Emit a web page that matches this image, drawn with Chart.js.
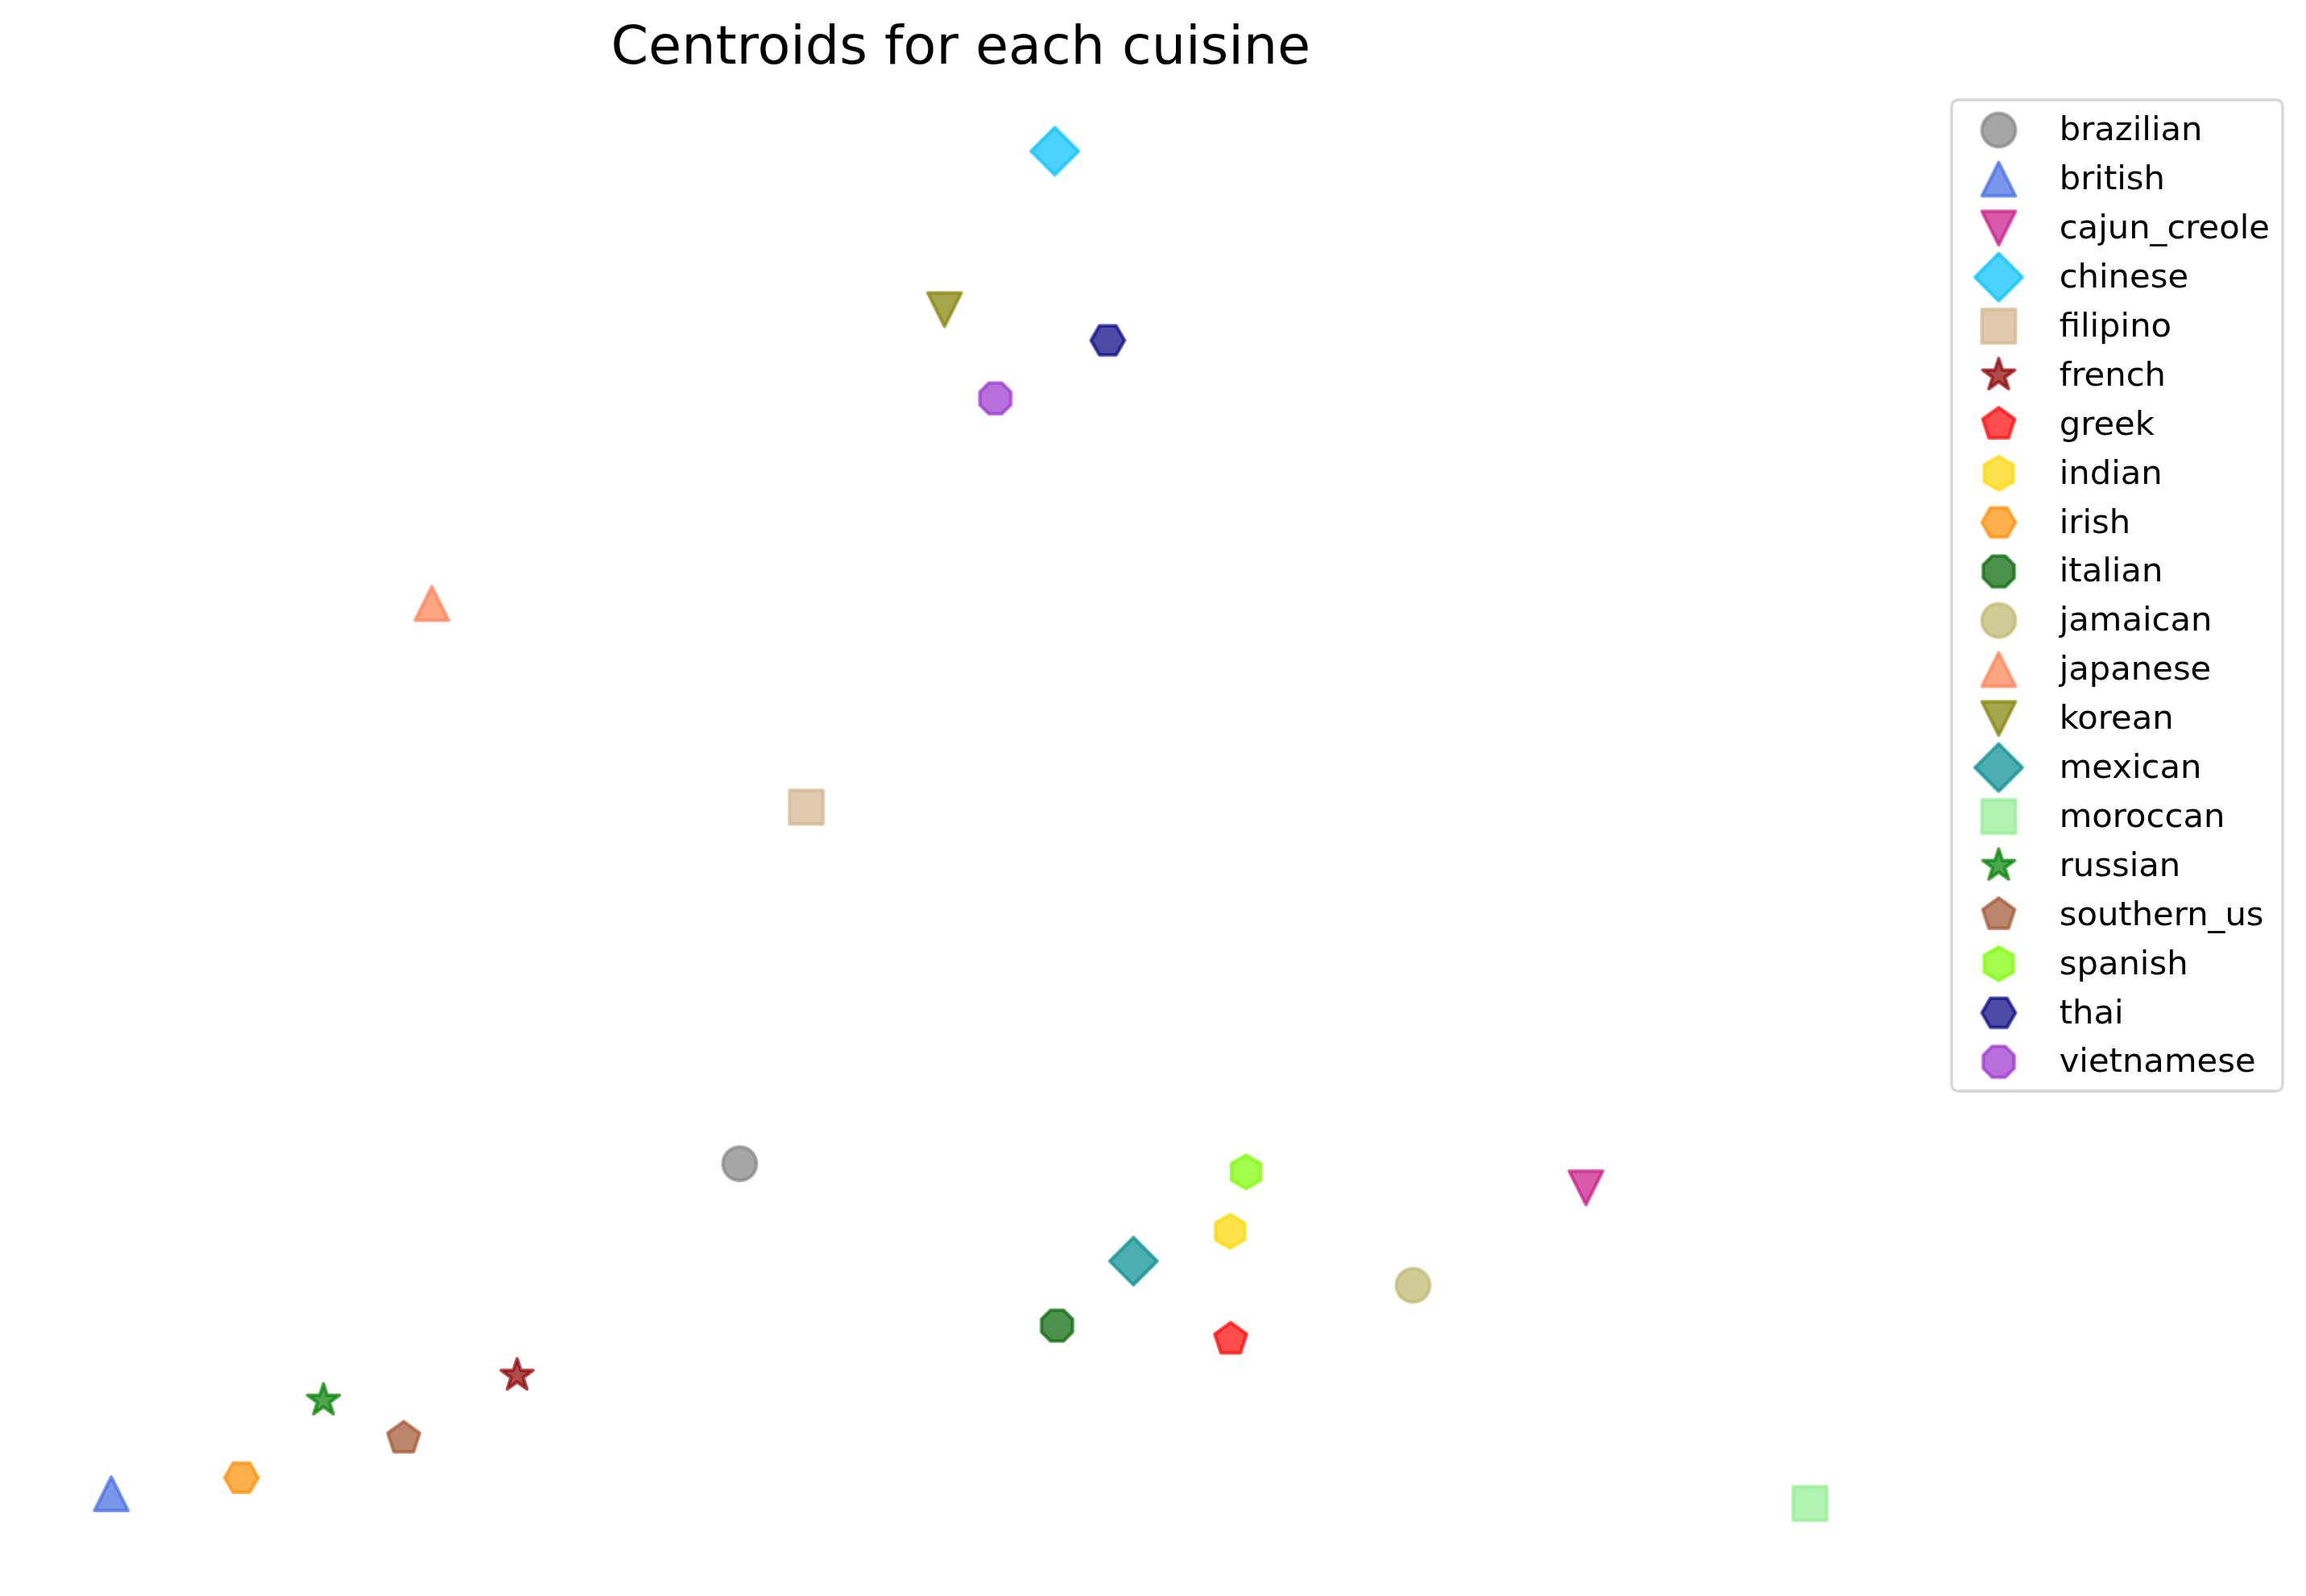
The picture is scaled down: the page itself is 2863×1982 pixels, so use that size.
<!DOCTYPE html>
<html>
<head>
<meta charset="utf-8">
<script src="https://cdn.jsdelivr.net/npm/chart.js@4/dist/chart.umd.min.js"></script>
<style>
  html, body { margin: 0; padding: 0; background: #ffffff; }
  #wrap { width: 2863px; height: 1982px; }
</style>
</head>
<body>
<div id="wrap"><canvas id="c" width="2863" height="1982"></canvas></div>
<script>
// ---- data (arbitrary centroid coordinates, no visible axes) ----
const cuisines = ["brazilian","british","cajun_creole","chinese","filipino","french","greek","indian","irish","italian","jamaican","japanese","korean","mexican","moroccan","russian","southern_us","spanish","thai","vietnamese"];
const xValues = [38.29, 5.00, 83.12, 54.98, 41.82, 26.50, 64.30, 64.26, 11.89, 55.10, 73.96, 21.98, 49.14, 59.15, 94.99, 16.24, 20.49, 65.11, 57.79, 51.83];
const yValues = [27.64, 5.68, 26.03, 95.02, 51.37, 13.55, 15.96, 23.14, 6.75, 16.87, 19.55, 64.92, 84.47, 21.16, 5.03, 11.89, 9.37, 27.10, 82.43, 78.57];

// ---- styles ----
const baseColors = ["#808080","#4169E1","#C71585","#00BFFF","#D2B48C","#8B0000","#FF0000","#FFD700","#FF8C00","#006400","#BDB76B","#FF7F50","#808000","#008B8B","#90EE90","#008000","#A0522D","#7CFC00","#000080","#9932CC"];
const markers = ["o","^","v","D","s","*","p","h","H","8","o","^","v","D","s","*","p","h","H","8"];

const ALPHA = 0.7;
const MS = 41.67;          // marker size in px (10pt @300dpi)
const EDGE = 4.17;         // edge width (1pt @300dpi)

function rgba(hex, a) {
  const n = parseInt(hex.slice(1), 16);
  return `rgba(${(n >> 16) & 255},${(n >> 8) & 255},${n & 255},${a})`;
}

function polyPts(n, r, startDeg) {
  const pts = [];
  for (let k = 0; k < n; k++) {
    const a = (startDeg + k * 360 / n) * Math.PI / 180;
    pts.push([r * Math.cos(a), r * Math.sin(a)]);
  }
  return pts;
}

function markerCanvas(marker, hex) {
  const size = 76;
  const cv = document.createElement('canvas');
  cv.width = size; cv.height = size;
  const g = cv.getContext('2d');
  g.translate(size / 2, size / 2);
  const r = MS / 2;
  g.beginPath();
  let pts = null;
  switch (marker) {
    case 'o': g.arc(0, 0, r, 0, Math.PI * 2); break;
    case '^': pts = [[0, -r], [r, r], [-r, r]]; break;
    case 'v': pts = [[0, r], [-r, -r], [r, -r]]; break;
    case 'D': { const d = MS / Math.SQRT2; pts = [[0, -d], [d, 0], [0, d], [-d, 0]]; break; }
    case 's': pts = [[-r, -r], [r, -r], [r, r], [-r, r]]; break;
    case 'p': pts = polyPts(5, r, -90); break;
    case 'h': pts = polyPts(6, r, -90); break;
    case 'H': pts = polyPts(6, r, 0); break;
    case '8': pts = polyPts(8, r, -67.5); break;
    case '*': {
      pts = [];
      for (let k = 0; k < 10; k++) {
        const rr = (k % 2 === 0) ? r : r * 0.381966;
        const a = (-90 + k * 36) * Math.PI / 180;
        pts.push([rr * Math.cos(a), rr * Math.sin(a)]);
      }
      break;
    }
  }
  if (pts) {
    g.moveTo(pts[0][0], pts[0][1]);
    for (let i = 1; i < pts.length; i++) g.lineTo(pts[i][0], pts[i][1]);
    g.closePath();
  }
  g.fillStyle = rgba(hex, ALPHA);
  g.fill();
  g.lineWidth = EDGE;
  g.lineJoin = 'round';
  g.strokeStyle = rgba(hex, ALPHA);
  g.stroke();
  return cv;
}

const datasets = cuisines.map((name, i) => ({
  label: name,
  data: [{ x: xValues[i], y: yValues[i] }],
  pointStyle: markerCanvas(markers[i], baseColors[i]),
  pointRadius: 20,
  pointHoverRadius: 20,
  backgroundColor: rgba(baseColors[i], ALPHA),
  borderColor: rgba(baseColors[i], ALPHA)
}));

// legend drawn in a matplotlib-like framed box
const FONT = "'DejaVu Sans', 'Liberation Sans', sans-serif";
const legendPlugin = {
  id: 'mplLegend',
  afterDraw(chart) {
    const ctx = chart.ctx;
    const x0 = 2423, y0 = 124, x1 = 2834, y1 = 1355, rad = 8;
    ctx.save();
    ctx.beginPath();
    ctx.moveTo(x0 + rad, y0);
    ctx.lineTo(x1 - rad, y0);
    ctx.arcTo(x1, y0, x1, y0 + rad, rad);
    ctx.lineTo(x1, y1 - rad);
    ctx.arcTo(x1, y1, x1 - rad, y1, rad);
    ctx.lineTo(x0 + rad, y1);
    ctx.arcTo(x0, y1, x0, y1 - rad, rad);
    ctx.lineTo(x0, y0 + rad);
    ctx.arcTo(x0, y0, x0 + rad, y0, rad);
    ctx.closePath();
    ctx.fillStyle = 'rgba(255,255,255,0.8)';
    ctx.fill();
    ctx.lineWidth = 3.33;
    ctx.strokeStyle = 'rgba(204,204,204,0.8)';
    ctx.stroke();

    ctx.font = `41.7px ${FONT}`;
    ctx.fillStyle = '#000000';
    ctx.textBaseline = 'middle';
    ctx.textAlign = 'left';
    chart.data.datasets.forEach((ds, i) => {
      const cy = 161.5 + i * 60.9;
      const img = ds.pointStyle;
      ctx.drawImage(img, 2481.5 - img.width / 2, cy - img.height / 2);
      ctx.fillText(ds.label, 2556.7, cy + 2);
    });
    ctx.restore();
  }
};

Chart.defaults.font.family = FONT;

new Chart(document.getElementById('c'), {
  type: 'scatter',
  data: { datasets },
  options: {
    responsive: false,
    animation: false,
    devicePixelRatio: 1,
    layout: { padding: { left: 15.6, right: 498.4, top: 0, bottom: 20 } },
    scales: {
      x: { type: 'linear', min: 0, max: 100, display: false },
      y: { type: 'linear', min: 0, max: 100, display: false }
    },
    plugins: {
      legend: { display: false },
      tooltip: { enabled: false },
      title: {
        display: true,
        text: 'Centroids for each cuisine',
        fullSize: false,
        color: '#000000',
        font: { family: FONT, size: 66.7, weight: 'normal', lineHeight: 1.1 },
        padding: { top: 25, bottom: -3.6 }
      }
    }
  },
  plugins: [legendPlugin]
});
</script>
</body>
</html>
